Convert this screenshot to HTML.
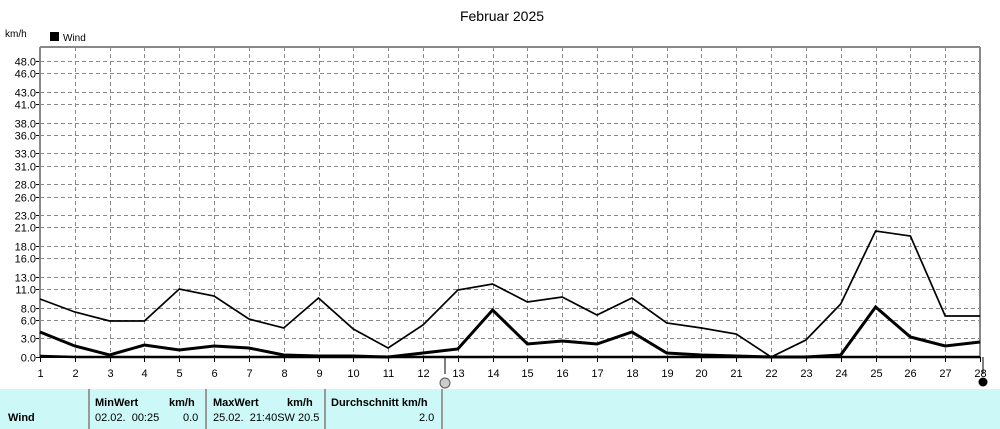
<!DOCTYPE html>
<html><head><meta charset="utf-8"><style>
body{margin:0;width:1000px;height:429px;background:#fff;overflow:hidden;font-family:"Liberation Sans",sans-serif;}
svg{position:absolute;left:0;top:0}
.tb{position:absolute;top:389px;height:40px;background:#ccf8f8;font-size:11px;}
</style></head><body>
<svg width="1000" height="389" font-family="Liberation Sans, sans-serif" font-size="11">
<text x="502" y="21" font-size="14" text-anchor="middle">Februar 2025</text>
<text x="5" y="37" font-size="10">km/h</text>
<rect x="50" y="32" width="9" height="9" fill="#000"/>
<text x="63" y="41" font-size="10">Wind</text>
<g id="grid" stroke="#888" stroke-dasharray="4,3" stroke-width="1"></g>
<g id="yl" text-anchor="end"></g>
<g id="xl" text-anchor="middle"></g>
<line x1="40" y1="47" x2="980" y2="47" stroke="#888" stroke-width="2"/>
<line x1="40" y1="47" x2="40" y2="357" stroke="#888" stroke-width="2"/>
<line x1="980" y1="47" x2="980" y2="357" stroke="#888" stroke-width="2"/>
<line x1="40" y1="357.5" x2="980" y2="357.5" stroke="#000" stroke-width="1"/>
<polyline id="mx" fill="none" stroke="#000" stroke-width="1.7"/>
<polyline id="av" fill="none" stroke="#000" stroke-width="3"/>
<polyline id="mn" fill="none" stroke="#000" stroke-width="2.5"/>
<line x1="445" y1="357" x2="445" y2="374" stroke="#000"/>
<circle cx="445" cy="383" r="5" fill="#ccc" stroke="#555"/>
<line x1="983" y1="357" x2="983" y2="374" stroke="#000"/>
<circle cx="983" cy="382" r="4.5" fill="#000"/>
</svg>
<div class="tb" style="left:0;width:1000px"></div>
<div class="tb" style="left:88px;width:2px;background:#999"></div>
<div class="tb" style="left:205px;width:2px;background:#999"></div>
<div class="tb" style="left:324px;width:2px;background:#999"></div>
<div class="tb" style="left:441px;width:2px;background:#999"></div>
<div class="tb" style="left:8px;top:412px;height:auto;background:none;font-weight:bold">Wind</div>
<div class="tb" style="left:95px;top:397px;height:auto;background:none;font-weight:bold">MinWert</div>
<div class="tb" style="left:169px;top:397px;height:auto;background:none;font-weight:bold">km/h</div>
<div class="tb" style="left:95px;top:412px;height:auto;background:none">02.02.&nbsp; 00:25</div>
<div class="tb" style="left:183px;top:412px;height:auto;background:none">0.0</div>
<div class="tb" style="left:213px;top:397px;height:auto;background:none;font-weight:bold">MaxWert</div>
<div class="tb" style="left:287px;top:397px;height:auto;background:none;font-weight:bold">km/h</div>
<div class="tb" style="left:213px;top:412px;height:auto;background:none">25.02.&nbsp; 21:40SW 20.5</div>
<div class="tb" style="left:331px;top:397px;height:auto;background:none;font-weight:bold">Durchschnitt km/h</div>
<div class="tb" style="left:419px;top:412px;height:auto;background:none">2.0</div>
<script>
const ns="http://www.w3.org/2000/svg";
const g=document.getElementById('grid'),yl=document.getElementById('yl'),xl=document.getElementById('xl');
const X=d=>40+(d-1)*940/27, Y=v=>357-v*6.17;
const vals=[0,3,6,8,11,13,16,18,21,23,26,28,31,33,36,38,41,43,46,48];
vals.forEach(v=>{const y=Math.round(Y(v))+.5;
 if(v>0){let l=document.createElementNS(ns,'line');l.setAttribute('x1',40);l.setAttribute('x2',980);l.setAttribute('y1',y);l.setAttribute('y2',y);g.appendChild(l);}
 let t=document.createElementNS(ns,'text');t.setAttribute('x',36);t.setAttribute('y',y+4);t.textContent=v.toFixed(1);yl.appendChild(t);
 let k=document.createElementNS(ns,'line');k.setAttribute('x1',36);k.setAttribute('x2',40);k.setAttribute('y1',y);k.setAttribute('y2',y);k.setAttribute('stroke','#000');yl.appendChild(k);});
for(let d=1;d<=28;d++){const x=Math.round(X(d))+.5;
 if(d>1&&d<28){let l=document.createElementNS(ns,'line');l.setAttribute('x1',x);l.setAttribute('x2',x);l.setAttribute('y1',47);l.setAttribute('y2',357);g.appendChild(l);}
 let k=document.createElementNS(ns,'line');k.setAttribute('x1',x);k.setAttribute('x2',x);k.setAttribute('y1',357);k.setAttribute('y2',362);k.setAttribute('stroke','#000');xl.appendChild(k);
 let t=document.createElementNS(ns,'text');t.setAttribute('x',x);t.setAttribute('y',377);t.textContent=d;xl.appendChild(t);}
const mx=[299,312,321,321,289,296,319,328,298,329,348,325,290,284,302,297,315,298,323,328,334,357,340,304,231,236,316,316];
const av=[332,346,355,345,350,346,348,355,356,356,357,353,349,310,344,341,344,332,353,355,356,357,357,355,307,337,346,342];
const mn=[356,357,357,357,357,357,357,357,357,357,357,357,357,357,357,357,357,357,357,357,357,357,357,357,357,357,357,357];
const pts=a=>a.map((y,i)=>X(i+1).toFixed(1)+','+y).join(' ');
document.getElementById('mx').setAttribute('points',pts(mx));
document.getElementById('av').setAttribute('points',pts(av));
document.getElementById('mn').setAttribute('points',pts(mn));
</script>
</body></html>
